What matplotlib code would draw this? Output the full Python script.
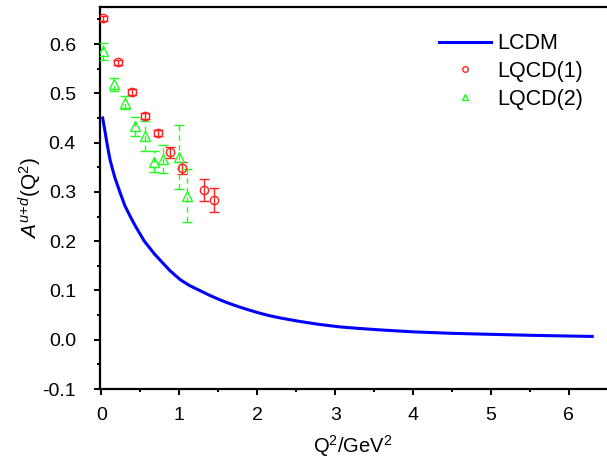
import matplotlib
matplotlib.use("Agg")
import matplotlib.pyplot as plt
from matplotlib.ticker import MultipleLocator
from matplotlib.lines import Line2D

plt.rcParams['font.family'] = ['Liberation Sans', 'DejaVu Sans']
plt.rcParams['mathtext.fontset'] = 'custom'
plt.rcParams['mathtext.rm'] = 'Liberation Sans'
plt.rcParams['mathtext.it'] = 'Liberation Sans:italic'

# LCDM curve
lcdm_q2 = [0.015, 0.05, 0.08, 0.11, 0.14, 0.17, 0.20, 0.24, 0.30, 0.37, 0.43,
           0.49, 0.55, 0.62, 0.68, 0.75, 0.88, 1.01, 1.13, 1.26, 1.39, 1.52,
           1.65, 1.78, 1.90, 2.03, 2.15, 2.30, 2.55, 2.80, 3.06, 3.30, 3.57,
           4.00, 4.50, 4.86, 5.50, 6.00, 6.30]
lcdm_a = [0.450, 0.418, 0.390, 0.365, 0.347, 0.330, 0.316, 0.298, 0.272, 0.250,
          0.232, 0.216, 0.200, 0.186, 0.174, 0.162, 0.140, 0.122, 0.110, 0.100,
          0.090, 0.081, 0.073, 0.066, 0.060, 0.054, 0.049, 0.044, 0.037, 0.031,
          0.026, 0.023, 0.020, 0.016, 0.013, 0.0115, 0.009, 0.0075, 0.0067]

# LQCD(1)
lq1_q2 = [0.015, 0.21, 0.39, 0.56, 0.725, 0.88, 1.03, 1.32, 1.44]
lq1_a = [0.652, 0.563, 0.502, 0.454, 0.419, 0.380, 0.349, 0.304, 0.284]
lq1_err = [0.005, 0.005, 0.006, 0.006, 0.006, 0.012, 0.012, 0.022, 0.024]

# LQCD(2)
lq2_q2 = [0.015, 0.157, 0.30, 0.43, 0.56, 0.68, 0.79, 0.995, 1.10]
lq2_a = [0.585, 0.518, 0.481, 0.433, 0.413, 0.361, 0.367, 0.370, 0.292]
lq2_err = [0.018, 0.014, 0.013, 0.019, 0.030, 0.021, 0.029, 0.065, 0.054]

red = '#ff2020'
green = '#20ff20'
blue = '#0000ff'

fig = plt.figure(figsize=(6.07, 4.59), dpi=100)
ax = fig.add_axes([0.164, 0.1525, 0.8437, 0.832])

ax.plot(lcdm_q2, lcdm_a, color=blue, lw=2.2, zorder=3)

ax.errorbar(lq1_q2, lq1_a, yerr=lq1_err, fmt='o', ms=6, mfc='none',
            mec=red, mew=1.0, ecolor=red, elinewidth=1.0,
            capsize=3.5, capthick=1.0, zorder=4)

eb2 = ax.errorbar(lq2_q2, lq2_a, yerr=lq2_err, fmt='^', ms=7, mfc='none',
                  mec=green, mew=1.0, ecolor=green, elinewidth=1.0,
                  capsize=3.5, capthick=1.0, zorder=4)
eb2[2][0].set_linestyle((0, (4, 3)))

ax.set_xlim(-0.025, 6.55)
ax.set_ylim(-0.1, 0.675)
ax.xaxis.set_major_locator(MultipleLocator(1))
ax.xaxis.set_minor_locator(MultipleLocator(0.5))
ax.yaxis.set_major_locator(MultipleLocator(0.1))
ax.yaxis.set_minor_locator(MultipleLocator(0.05))
ax.yaxis.set_major_formatter(plt.FormatStrFormatter('%.1f'))

ax.tick_params(which='major', direction='out', length=4, width=1.4,
               labelsize=14, top=False, right=False)
ax.tick_params(axis='y', which='major', pad=13)
ax.tick_params(axis='x', which='major', pad=9)
ax.tick_params(which='minor', direction='out', length=2.4, width=1.4,
               top=False, right=False)
for s in ax.spines.values():
    s.set_linewidth(1.6)

ax.set_xlabel(r'Q$^2$/GeV$^2$', fontsize=14.5)
ax.set_ylabel(r'$A^{u\!+\!d}$(Q$^2$)', fontsize=15)
ax.xaxis.set_label_coords(0.495, -0.115)
ax.yaxis.set_label_coords(-0.109, 0.5)

handles = [
    Line2D([], [], color=blue, lw=2.2),
    Line2D([], [], ls='none', marker='o', ms=4, mfc='none', mec=red, mew=1.0),
    Line2D([], [], ls='none', marker='^', ms=4.5, mfc='none', mec=green, mew=1.0),
]
ax.legend(handles, ['LCDM', 'LQCD(1)', 'LQCD(2)'], loc='upper left',
          bbox_to_anchor=(0.724, 0.928), bbox_transform=fig.transFigure,
          frameon=False, fontsize=15.5, borderpad=0, borderaxespad=0,
          handlelength=2.4, handletextpad=0.3, labelspacing=0.32)

fig.savefig('out.png', dpi=100)
